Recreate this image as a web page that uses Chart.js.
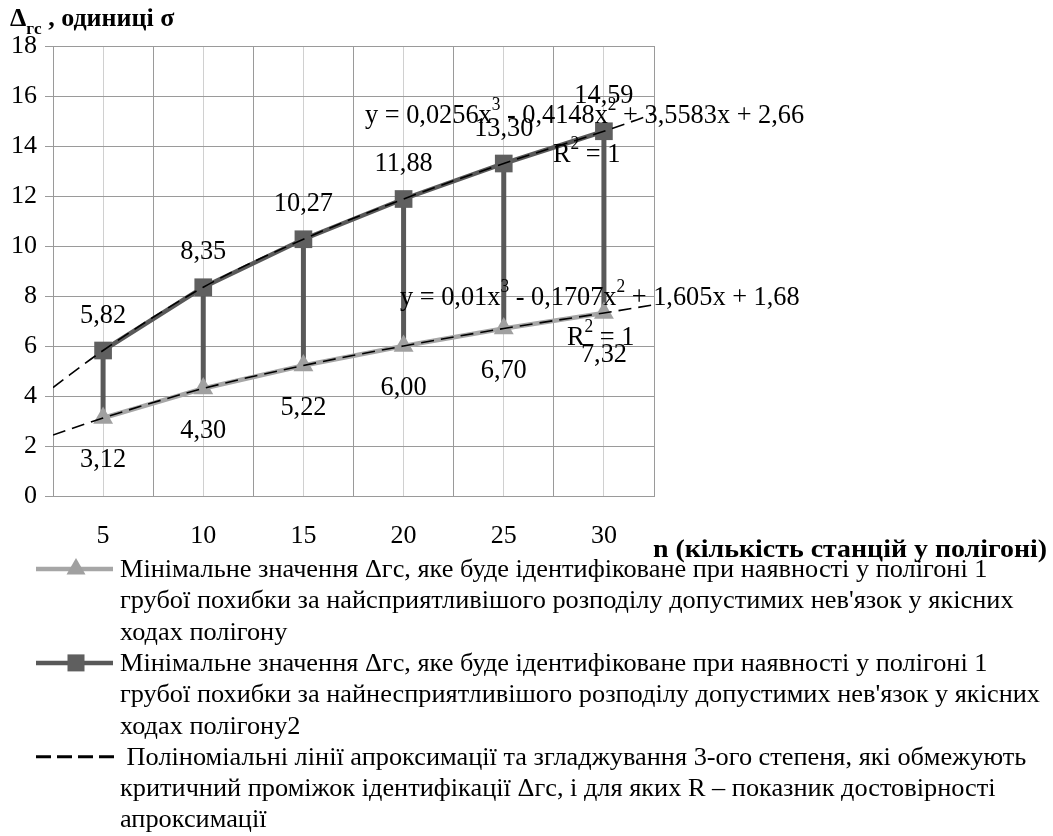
<!DOCTYPE html>
<html>
<head>
<meta charset="utf-8">
<script src="https://cdn.jsdelivr.net/npm/chart.js@4.4.0/dist/chart.umd.min.js"></script>
<style>
  html, body { margin: 0; padding: 0; background: #fff; }
  #wrap { position: relative; width: 1053px; height: 836px; }
</style>
</head>
<body>
<div id="wrap"><canvas id="chart"></canvas></div>
<script>
// values
const nValues = [5, 10, 15, 20, 25, 30];
const minFavorable = [3.12, 4.30, 5.22, 6.00, 6.70, 7.32];
const minUnfavorable = [5.82, 8.35, 10.27, 11.88, 13.30, 14.59];
// polynomial trendlines, read from the left edge to the right edge of the plot
const trendX = [2.5, 5, 10, 15, 20, 25, 30, 32.5];
const trendUpper = [4.34, 5.82, 8.35, 10.27, 11.88, 13.30, 14.59, 15.29];
const trendLower = [2.44, 3.12, 4.30, 5.22, 6.00, 6.70, 7.32, 7.65];

const upperEquation = [['y = 0,0256x'], ['3', 'sup'], [' - 0,4148x'], ['2', 'sup'], [' + 3,5583x + 2,66']];
const lowerEquation = [['y = 0,01x'], ['3', 'sup'], [' - 0,1707x'], ['2', 'sup'], [' + 1,605x + 1,68']];
const rSquared = [['R'], ['2', 'sup'], [' = 1']];

const legendLines = [
  'Мінімальне значення Δгс, яке буде ідентифіковане при наявності у полігоні 1',
  'грубої похибки за найсприятливішого розподілу допустимих нев\'язок у якісних',
  'ходах полігону',
  'Мінімальне значення Δгс, яке буде ідентифіковане при наявності у полігоні 1',
  'грубої похибки за найнесприятливішого розподілу допустимих нев\'язок у якісних',
  'ходах полігону2',
  ' Поліноміальні лінії апроксимації та згладжування 3-ого степеня, які обмежують',
  'критичний проміжок ідентифікації Δгс, і для яких R – показник достовірності',
  'апроксимації'
];

const serif = '"Liberation Serif", "Times New Roman", serif';
const lightGray = '#a6a6a6';
const darkGray = '#595959';

function richText(ctx, parts, x, y, size, sx, weight) {
  ctx.save();
  ctx.translate(x, y);
  ctx.scale(sx, 1);
  ctx.textBaseline = 'alphabetic';
  ctx.textAlign = 'left';
  ctx.fillStyle = '#000';
  let cx = 0;
  parts.forEach(([t, kind]) => {
    const s = kind ? size * 0.66 : size;
    ctx.font = (weight || '') + ' ' + s + 'px ' + serif;
    const dy = kind === 'sup' ? -size * 0.46 : kind === 'sub' ? size * 0.3 : 0;
    ctx.fillText(t, cx, dy);
    cx += ctx.measureText(t).width;
  });
  ctx.restore();
}

const fmt = v => v.toFixed(2).replace('.', ',');

const extras = {
  id: 'extras',
  beforeDatasetsDraw(chart) {
    const { ctx, scales: { x, y } } = chart;
    ctx.save();
    ctx.strokeStyle = darkGray;
    ctx.lineWidth = 5;
    nValues.forEach((n, i) => {
      ctx.beginPath();
      ctx.moveTo(x.getPixelForValue(n), y.getPixelForValue(minUnfavorable[i]));
      ctx.lineTo(x.getPixelForValue(n), y.getPixelForValue(minFavorable[i]));
      ctx.stroke();
    });
    ctx.restore();
  },
  afterDraw(chart) {
    const { ctx, scales: { x, y } } = chart;
    // data labels
    ctx.save();
    ctx.fillStyle = '#000';
    ctx.textAlign = 'center';
    ctx.font = '28px ' + serif;
    nValues.forEach((n, i) => {
      const px = x.getPixelForValue(n);
      [[minUnfavorable[i], -38], [minFavorable[i], 39]].forEach(([v, off]) => {
        ctx.save();
        ctx.translate(px, y.getPixelForValue(v) + off + 10);
        ctx.scale(0.94, 1);
        ctx.fillText(fmt(v), 0, 0);
        ctx.restore();
      });
    });
    ctx.restore();

    // trendline equations
    richText(ctx, upperEquation, 365, 123, 28, 0.94);
    richText(ctx, rSquared, 553, 162, 28, 0.94);
    richText(ctx, lowerEquation, 400, 305, 28, 0.94);
    richText(ctx, rSquared, 567, 345, 28, 0.94);

    // axis titles
    richText(ctx, [['Δ'], ['гс', 'sub'], [' , одиниці σ']], 10, 26, 26, 1, 'bold');
    ctx.save();
    ctx.font = 'bold 26px ' + serif;
    const xt = 'n (кількість станцій у полігоні)';
    const xsx = 394 / ctx.measureText(xt).width;
    ctx.restore();
    richText(ctx, [[xt]], 653, 557, 26, xsx, 'bold');

    // legend
    ctx.save();
    ctx.font = '26px ' + serif;
    const lsx = 920 / ctx.measureText(legendLines[4]).width;
    ctx.restore();
    const rows = legendLines.map((_, i) => 569 + i * 31.3);
    legendLines.forEach((t, i) => richText(ctx, [[t]], 120, rows[i] + 8, 26, lsx));

    ctx.save();
    ctx.lineWidth = 4.5;
    ctx.strokeStyle = lightGray;
    ctx.beginPath(); ctx.moveTo(36, rows[0]); ctx.lineTo(113, rows[0]); ctx.stroke();
    ctx.fillStyle = '#a0a0a0';
    ctx.beginPath();
    ctx.moveTo(76, rows[0] - 11); ctx.lineTo(85.5, rows[0] + 5.5); ctx.lineTo(66.5, rows[0] + 5.5);
    ctx.closePath(); ctx.fill();

    ctx.strokeStyle = darkGray;
    ctx.beginPath(); ctx.moveTo(36, rows[3]); ctx.lineTo(113, rows[3]); ctx.stroke();
    ctx.fillStyle = '#5f5f5f';
    ctx.fillRect(67.5, rows[3] - 8.5, 17, 17);

    ctx.strokeStyle = '#000';
    ctx.lineWidth = 3;
    ctx.setLineDash([15, 6]);
    ctx.beginPath(); ctx.moveTo(36, rows[6]); ctx.lineTo(114, rows[6]); ctx.stroke();
    ctx.restore();
  }
};

const toXY = (xs, ys) => xs.map((v, i) => ({ x: v, y: ys[i] }));

new Chart(document.getElementById('chart'), {
  type: 'line',
  data: {
    datasets: [
      {
        label: 'trend upper',
        data: toXY(trendX, trendUpper),
        borderColor: '#000', borderWidth: 1.6, borderDash: [13, 7],
        pointRadius: 0, cubicInterpolationMode: 'monotone', fill: false
      },
      {
        label: 'trend lower',
        data: toXY(trendX, trendLower),
        borderColor: '#000', borderWidth: 1.6, borderDash: [13, 7],
        pointRadius: 0, cubicInterpolationMode: 'monotone', fill: false
      },
      {
        label: 'unfavorable',
        data: toXY(nValues, minUnfavorable),
        borderColor: darkGray, borderWidth: 4.5,
        pointStyle: 'rect', pointRadius: 12.5,
        pointBackgroundColor: '#5f5f5f', pointBorderWidth: 0, pointBorderColor: '#5f5f5f'
      },
      {
        label: 'favorable',
        data: toXY(nValues, minFavorable),
        borderColor: lightGray, borderWidth: 4.5,
        pointStyle: 'triangle', pointRadius: 11.5,
        pointBackgroundColor: '#a0a0a0', pointBorderWidth: 0, pointBorderColor: '#a0a0a0'
      }
    ]
  },
  options: {
    responsive: true,
    maintainAspectRatio: false,
    animation: false,
    layout: { padding: { top: 46, right: 399, bottom: 280, left: 0 } },
    plugins: { legend: { display: false }, tooltip: { enabled: false } },
    scales: {
      x: {
        type: 'linear', min: 2.5, max: 32.5,
        afterFit: s => { s.height = 60; },
        afterBuildTicks: s => { s.ticks = []; for (let v = 2.5; v <= 32.5; v += 2.5) s.ticks.push({ value: v }); },
        ticks: {
          autoSkip: false, maxRotation: 0, padding: 25,
          color: '#000', font: { family: serif, size: 26 },
          callback: v => (v % 5 === 0 ? String(v) : '')
        },
        grid: {
          drawTicks: false,
          color: c => (c.tick && c.tick.value % 5 === 0 ? '#d0d0d0' : '#9a9a9a'),
          lineWidth: 1
        },
        border: { color: '#9a9a9a' }
      },
      y: {
        min: 0, max: 18,
        afterFit: s => { s.width = 53; },
        ticks: { stepSize: 2, padding: 8, color: '#000', font: { family: serif, size: 26 } },
        grid: { color: '#9a9a9a', tickLength: 8 },
        border: { color: '#9a9a9a' }
      }
    }
  },
  plugins: [extras]
});
</script>
</body>
</html>
